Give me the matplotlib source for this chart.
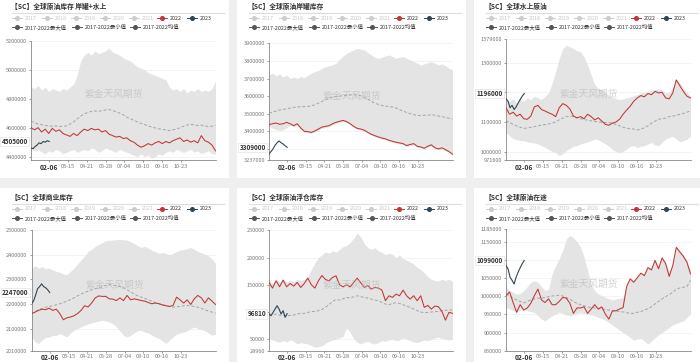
import numpy as np
import matplotlib
matplotlib.use('Agg')
import matplotlib.pyplot as plt
from matplotlib.patches import Rectangle
from matplotlib.lines import Line2D

plt.rcParams['font.family'] = ['Noto Sans CJK SC', 'DejaVu Sans']

# ---------------- data (values in thousands) ----------------
days = np.arange(0, 365, 7)          # weekly day-of-year positions (53)
days23 = np.arange(0, 37, 4)         # 2023 up to 02-06
tick_days = [36, 73, 110, 147, 184, 221, 258, 295]
tick_labels = ['02-06', '03-15', '04-21', '05-28', '07-04', '08-10', '09-16', '10-23']

titles = ['【SC】全球原油库存 岸罐+水上', '【SC】全球原油岸罐库存', '【SC】全球水上原油',
          '【SC】全球商业库存', '【SC】全球原油浮仓库存', '【SC】全球原油在途']
legend_years = ['2017', '2018', '2019', '2020', '2021', '2022', '2023']
legend_stats = ['2017-2022最大值', '2017-2022最小值', '2017-2022均值']

p1_max = [4880,4870,4890,4860,4880,4850,4870,4860,4850,4870,4860,4880,4900,4960,5060,5100,5120,5100,5130,5110,5120,5130,5150,5120,5110,5100,5080,5070,5060,5040,5020,5010,5000,4980,4970,4960,4950,4940,4930,4880,4860,4870,4850,4870,4840,4860,4850,4870,4850,4860,4850,4870,4920]
p1_min = [4460,4440,4450,4430,4420,4440,4430,4450,4440,4420,4430,4440,4450,4430,4440,4450,4440,4460,4450,4430,4440,4460,4450,4440,4430,4450,4440,4430,4420,4410,4400,4420,4400,4410,4390,4400,4420,4410,4430,4440,4430,4450,4440,4430,4440,4450,4430,4440,4420,4430,4440,4420,4420]
p1_mean = [4645,4635,4625,4620,4615,4612,4610,4612,4608,4610,4612,4625,4640,4660,4680,4695,4705,4712,4715,4712,4718,4722,4725,4718,4710,4700,4688,4672,4662,4650,4640,4630,4622,4612,4605,4598,4592,4588,4585,4580,4585,4590,4600,4610,4618,4622,4620,4615,4618,4612,4608,4610,4615]
p1_2022 = [4600,4585,4600,4570,4590,4560,4595,4575,4585,4560,4550,4540,4560,4545,4570,4590,4580,4595,4585,4590,4570,4580,4555,4545,4535,4540,4525,4530,4510,4500,4480,4465,4475,4490,4480,4495,4505,4490,4505,4495,4510,4520,4530,4505,4515,4500,4510,4495,4545,4510,4500,4480,4440]
p1_2023 = [4460,4455,4470,4480,4495,4490,4505,4500,4510,4505]

p2_max = [3721,3730,3715,3726,3708,3719,3700,3708,3700,3711,3704,3719,3730,3740,3745,3758,3768,3772,3777,3787,3809,3828,3843,3853,3862,3872,3866,3862,3847,3834,3821,3815,3821,3828,3834,3825,3815,3821,3825,3815,3806,3796,3787,3777,3783,3790,3796,3787,3777,3783,3772,3758,3749]
p2_min = [3430,3418,3410,3405,3408,3420,3436,3425,3436,3412,3394,3392,3388,3396,3407,3418,3422,3426,3437,3445,3451,3456,3449,3437,3422,3411,3407,3400,3388,3377,3369,3362,3356,3351,3343,3337,3332,3328,3324,3313,3319,3324,3309,3305,3298,3309,3317,3301,3294,3300,3290,3279,3264]
p2_mean = [3504,3509,3515,3521,3524,3528,3532,3536,3538,3540,3541,3541,3545,3551,3560,3570,3579,3589,3594,3598,3600,3602,3604,3606,3608,3606,3602,3594,3583,3570,3560,3553,3547,3543,3541,3538,3532,3523,3515,3507,3500,3494,3491,3489,3491,3492,3494,3491,3487,3483,3479,3474,3470]
p2_2022 = [3438,3443,3447,3440,3443,3451,3443,3432,3443,3419,3400,3398,3394,3402,3413,3424,3428,3432,3443,3451,3457,3462,3455,3443,3428,3417,3413,3406,3394,3383,3375,3368,3362,3357,3349,3343,3338,3334,3330,3319,3325,3330,3315,3311,3304,3315,3323,3307,3300,3306,3296,3285,3270]
p2_2023 = [3272,3285,3300,3320,3335,3345,3335,3328,3318,3309]

p3_max = [1176,1170,1178,1164,1176,1170,1181,1176,1187,1181,1176,1187,1198,1231,1270,1314,1348,1359,1353,1348,1340,1337,1320,1292,1259,1226,1214,1209,1198,1189,1184,1178,1176,1178,1181,1184,1189,1192,1198,1200,1203,1207,1209,1213,1207,1198,1200,1214,1244,1231,1214,1200,1187]
p3_min = [1064,1053,1044,1040,1037,1037,1033,1031,1029,1026,1020,1014,1007,1000,996,987,992,1003,1011,1018,1020,1026,1029,1033,1037,1042,1040,1033,1026,1018,1007,1000,996,1000,1009,1018,1020,1014,1018,1020,1026,1031,1022,1020,1031,1042,1048,1051,1042,1033,1037,1042,1051]
p3_mean = [1103,1098,1092,1087,1082,1078,1080,1082,1084,1087,1089,1091,1093,1096,1100,1107,1113,1118,1120,1118,1114,1111,1108,1106,1104,1102,1100,1099,1098,1098,1096,1091,1087,1082,1079,1077,1076,1073,1076,1080,1087,1096,1103,1109,1111,1113,1118,1120,1122,1126,1129,1133,1137]
p3_2022 = [1148,1126,1133,1120,1126,1111,1109,1120,1151,1156,1142,1137,1131,1126,1118,1148,1162,1156,1144,1120,1114,1118,1111,1126,1118,1107,1114,1103,1092,1089,1096,1100,1109,1126,1140,1153,1170,1181,1189,1185,1196,1192,1203,1198,1200,1181,1178,1198,1242,1222,1203,1187,1181]
p3_2023 = [1178,1170,1148,1156,1142,1151,1164,1176,1187,1196]

p4_max = [2342,2356,2346,2352,2344,2346,2338,2333,2329,2322,2320,2333,2346,2363,2379,2396,2414,2423,2435,2443,2450,2457,2460,2460,2462,2464,2461,2460,2454,2446,2437,2430,2435,2427,2419,2414,2406,2410,2406,2400,2406,2414,2419,2422,2425,2430,2423,2414,2408,2403,2396,2383,2365]
p4_min = [2066,2046,2039,2053,2064,2066,2072,2073,2080,2073,2066,2082,2093,2100,2107,2113,2120,2123,2127,2131,2134,2131,2126,2120,2107,2091,2073,2066,2073,2082,2091,2093,2086,2082,2073,2066,2060,2050,2039,2053,2066,2077,2082,2086,2091,2100,2107,2101,2096,2091,2082,2073,2077]
p4_mean = [2161,2169,2177,2182,2187,2190,2193,2197,2201,2206,2212,2218,2225,2233,2240,2247,2252,2258,2262,2266,2271,2276,2279,2276,2274,2271,2266,2258,2249,2241,2233,2228,2223,2217,2212,2206,2202,2198,2194,2190,2187,2189,2190,2193,2194,2193,2190,2187,2182,2177,2171,2167,2163]
p4_2022 = [2161,2167,2174,2179,2177,2183,2174,2179,2161,2136,2144,2147,2152,2161,2174,2193,2188,2204,2225,2233,2231,2231,2221,2220,2214,2225,2214,2235,2217,2221,2218,2214,2212,2206,2201,2204,2201,2196,2193,2190,2194,2228,2217,2204,2217,2198,2221,2235,2225,2204,2225,2212,2198]
p4_2023 = [2201,2212,2235,2262,2271,2282,2271,2266,2258,2247]

p5_max = [158,152,160,155,161,155,158,156,160,158,160,165,178,190,200,205,210,208,212,210,215,220,222,228,235,245,238,225,218,215,218,212,210,205,208,206,200,205,198,195,192,188,182,178,172,165,160,158,157,160,158,160,156]
p5_min = [50.5,48.7,46.3,44.4,47.5,45.0,48.7,46.3,41.4,43.8,42.6,41.4,38.3,35.3,36.5,38.3,42.6,46.3,48.7,50.5,52.4,54.8,70.7,62.7,50.5,44.4,41.4,44.4,46.3,42.6,41.4,43.8,47.5,46.3,48.7,49.9,47.5,48.7,52.4,49.9,47.5,45.0,43.8,46.3,48.7,47.5,49.9,52.4,53.6,51.1,49.9,48.7,49.9]
p5_mean = [96.3,95.0,96.3,93.8,94.4,93.2,93.8,94.4,96.3,97.5,97.5,99.3,100.6,101.2,102.4,104.8,108.5,113.4,119.5,123.1,121.9,124.3,126.8,125.6,128.0,129.8,128.0,126.8,125.6,123.7,121.9,120.7,117.6,114.6,113.4,115.8,117.0,115.8,113.4,110.9,108.5,105.4,102.4,100.0,98.7,99.3,100.0,100.6,101.2,102.4,103.0,103.6,103.6]
p5_2022 = [154.2,143.9,157.3,146.3,158.5,146.3,152.4,147.5,154.2,145.1,152.4,162.2,150.0,143.9,157.3,167.0,159.7,157.3,163.4,166.4,150.0,146.3,150.0,146.3,154.2,162.2,153.6,145.1,148.7,142.0,145.1,143.9,140.2,120.7,129.8,126.8,132.9,129.8,140.2,129.8,123.7,129.8,120.7,129.8,108.5,112.1,105.4,110.9,109.7,101.2,85.0,99.3,97.6]
p5_2023 = [96.3,93.2,99.3,105.4,111.5,105.4,96.3,102.4,90.2,96.81]

p6_max = [1025,1016,1011,1006,1008,1016,1027,1039,1043,1039,1027,1016,1020,1062,1085,1104,1127,1159,1168,1162,1150,1136,1108,1071,1034,1016,1006,1002,997,993,990,993,995,997,1030,1050,1045,1055,1066,1062,1082,1078,1102,1085,1108,1095,1070,1090,1138,1128,1115,1100,1070]
p6_min = [969,965,960,956,962,965,960,958,956,946,937,932,940,946,951,956,953,949,946,949,953,955,953,951,949,946,942,940,934,928,921,914,907,900,894,886,879,882,884,877,868,877,886,894,900,907,914,921,925,929,932,942,951]
p6_mean = [1006,1002,995,990,986,982,986,990,993,995,995,997,999,1001,1002,1003,1001,997,992,986,981,977,974,971,969,968,966,965,964,962,960,960,958,957,955,953,953,956,958,962,966,971,979,986,993,999,1005,1011,1020,1023,1025,1027,1044]
p6_2022 = [1002,1012,983,956,977,962,968,981,1002,1020,990,983,993,977,977,986,997,995,981,953,968,968,971,953,965,977,965,971,951,937,960,960,965,969,1027,1048,1039,1051,1064,1057,1079,1073,1099,1076,1106,1090,1055,1085,1135,1122,1110,1094,1062]
p6_2023 = [1085,1076,1053,1044,1034,1053,1067,1079,1090,1099]

p1_yticks = [4400000, 4600000, 4800000, 5000000, 5200000]
p2_yticks = [3237000, 3300000, 3400000, 3500000, 3600000, 3700000, 3800000, 3900000]
p3_yticks = [971600, 1000000, 1100000, 1200000, 1300000, 1379000]
p4_yticks = [2010000, 2100000, 2200000, 2300000, 2400000, 2500000]
p5_yticks = [28960, 50000, 100000, 150000, 200000, 250000]
p6_yticks = [850000, 900000, 950000, 1000000, 1050000, 1100000, 1150000, 1185000]
p1_ylim = (4377000, 5200000)
p2_ylim = (3237000, 3900000)
p3_ylim = (971600, 1379000)
p4_ylim = (2010000, 2500000)
p5_ylim = (28960, 250000)
p6_ylim = (850000, 1185000)

# ---------------- styling / layout ----------------
C2022 = '#c23531'
C2023 = '#2f4554'
BAND = '#e4e4e4'
MEANC = '#a3a3a3'

FW, FH = 700, 362
fig = plt.figure(figsize=(FW / 100, FH / 100), dpi=100)
fig.patch.set_facecolor('#efefef')
bg = fig.add_axes([0, 0, 1, 1])
bg.set_xlim(0, FW)
bg.set_ylim(FH, 0)
bg.axis('off')

card_lefts = [0, 237, 474]
card_tops = [-3, 188]
card_h = 181

panels = [
    (p1_max, p1_min, p1_mean, p1_2022, p1_2023, p1_yticks, p1_ylim, (31, 40.7, 216, 160)),
    (p2_max, p2_min, p2_mean, p2_2022, p2_2023, p2_yticks, p2_ylim, (269, 43.3, 453, 160)),
    (p3_max, p3_min, p3_mean, p3_2022, p3_2023, p3_yticks, p3_ylim, (506, 39.3, 691, 160)),
    (p4_max, p4_min, p4_mean, p4_2022, p4_2023, p4_yticks, p4_ylim, (31.5, 230.3, 216, 350.7)),
    (p5_max, p5_min, p5_mean, p5_2022, p5_2023, p5_yticks, p5_ylim, (269, 230.3, 453, 350.7)),
    (p6_max, p6_min, p6_mean, p6_2022, p6_2023, p6_yticks, p6_ylim, (506, 229.3, 691, 350.7)),
]

leg1_sym = [16.7, 46.5, 76, 105, 133.5, 162, 191.5]
leg2_sym = [17.3, 76.7, 135]
year_sym_colors = ['#cccccc'] * 5 + [C2022, C2023]
year_txt_colors = ['#c8c8c8'] * 5 + ['#333333', '#333333']

for i, (mx, mn, mean, s22, s23, yt, yl, rect) in enumerate(panels):
    r, c = divmod(i, 3)
    L = card_lefts[c]
    T = card_tops[r]
    w = (FW - L) if c == 2 else 229
    bg.add_patch(Rectangle((L, T), w, card_h, fc='white', ec='none', zorder=0))
    bg.text(L + 11, T + 9.3, titles[i], fontsize=4.9, fontweight='bold', color='#333333',
            ha='left', va='center')
    bg.plot([L + 12, L + 224], [T + 16.3, T + 16.3], color='#dddddd', lw=0.8)
    y1 = T + 21
    y2 = T + 30
    for k, lab in enumerate(legend_years):
        cx = L + leg1_sym[k]
        bg.add_line(Line2D([cx - 5, cx + 5], [y1, y1], color=year_sym_colors[k], lw=0.7))
        bg.plot([cx], [y1], marker='o', ms=2.6, color=year_sym_colors[k], mec=year_sym_colors[k])
        bg.text(cx + 8, y1, lab, fontsize=3.9, color=year_txt_colors[k], ha='left', va='center')
    for k, lab in enumerate(legend_stats):
        cx = L + leg2_sym[k]
        bg.add_line(Line2D([cx - 5, cx + 5], [y2, y2], color='#555555', lw=0.7))
        bg.plot([cx], [y2], marker='o', ms=2.6, color='#555555')
        bg.text(cx + 8, y2, lab, fontsize=3.9, color='#333333', ha='left', va='center')

    left, top, right, bottom = rect
    ax = fig.add_axes([left / FW, 1 - bottom / FH, (right - left) / FW, (bottom - top) / FH])
    ax.set_facecolor('none')
    k1000 = 1000.0
    mxv = np.array(mx) * k1000
    mnv = np.array(mn) * k1000
    ax.fill_between(days, mnv, mxv, color=BAND, lw=0, zorder=1)
    ax.plot(days, np.array(mean) * k1000, color=MEANC, lw=0.7, dashes=(3, 2), zorder=2)
    ax.plot(days, np.array(s22) * k1000, color=C2022, lw=0.75, zorder=3)
    ax.plot(days23, np.array(s23) * k1000, color=C2023, lw=0.8, zorder=4)
    ax.set_xlim(0, 365)
    ax.set_ylim(*yl)

    last = int(round(s23[-1] * k1000))
    hpx = (bottom - top)
    lab_py = (last - yl[0]) / (yl[1] - yl[0]) * hpx
    ylabels = []
    for t in yt:
        py = (t - yl[0]) / (yl[1] - yl[0]) * hpx
        ylabels.append('' if abs(py - lab_py) < 6.5 else str(t))
    ax.set_yticks(yt)
    ax.set_yticklabels(ylabels)
    ax.grid(axis='y', color='#eeeeee', lw=0.5, zorder=0)
    ax.set_axisbelow(True)
    ax.tick_params(axis='y', labelsize=4, colors='#777777', length=1.5, width=0.5, pad=1.5)
    ax.set_xticks(tick_days)
    ax.set_xticklabels(tick_labels)
    ax.tick_params(axis='x', labelsize=4, colors='#777777', length=1.5, width=0.5, pad=1.2)
    xl = ax.get_xticklabels()
    xl[0].set_fontweight('bold')
    xl[0].set_fontsize(4.9)
    xl[0].set_color('#333333')
    for s in ['top', 'right']:
        ax.spines[s].set_visible(False)
    for s in ['left', 'bottom']:
        ax.spines[s].set_color('#888888')
        ax.spines[s].set_linewidth(0.6)

    ax.annotate(f'{last}', xy=(0, last), xycoords=('axes fraction', 'data'),
                xytext=(-2.2, 0), textcoords='offset points', ha='right', va='center',
                fontsize=4.6, fontweight='bold', color='#333333', annotation_clip=False,
                bbox=dict(boxstyle='square,pad=0.2', fc='white', ec='#dddddd', lw=0.4), zorder=10)

    ax.text(0.45, 0.55, '紫金天风期货', transform=ax.transAxes, fontsize=7, color='#b5b5b5',
            alpha=0.6, ha='center', va='center', zorder=5)

fig.savefig('out.png', dpi=100, facecolor=fig.get_facecolor())
